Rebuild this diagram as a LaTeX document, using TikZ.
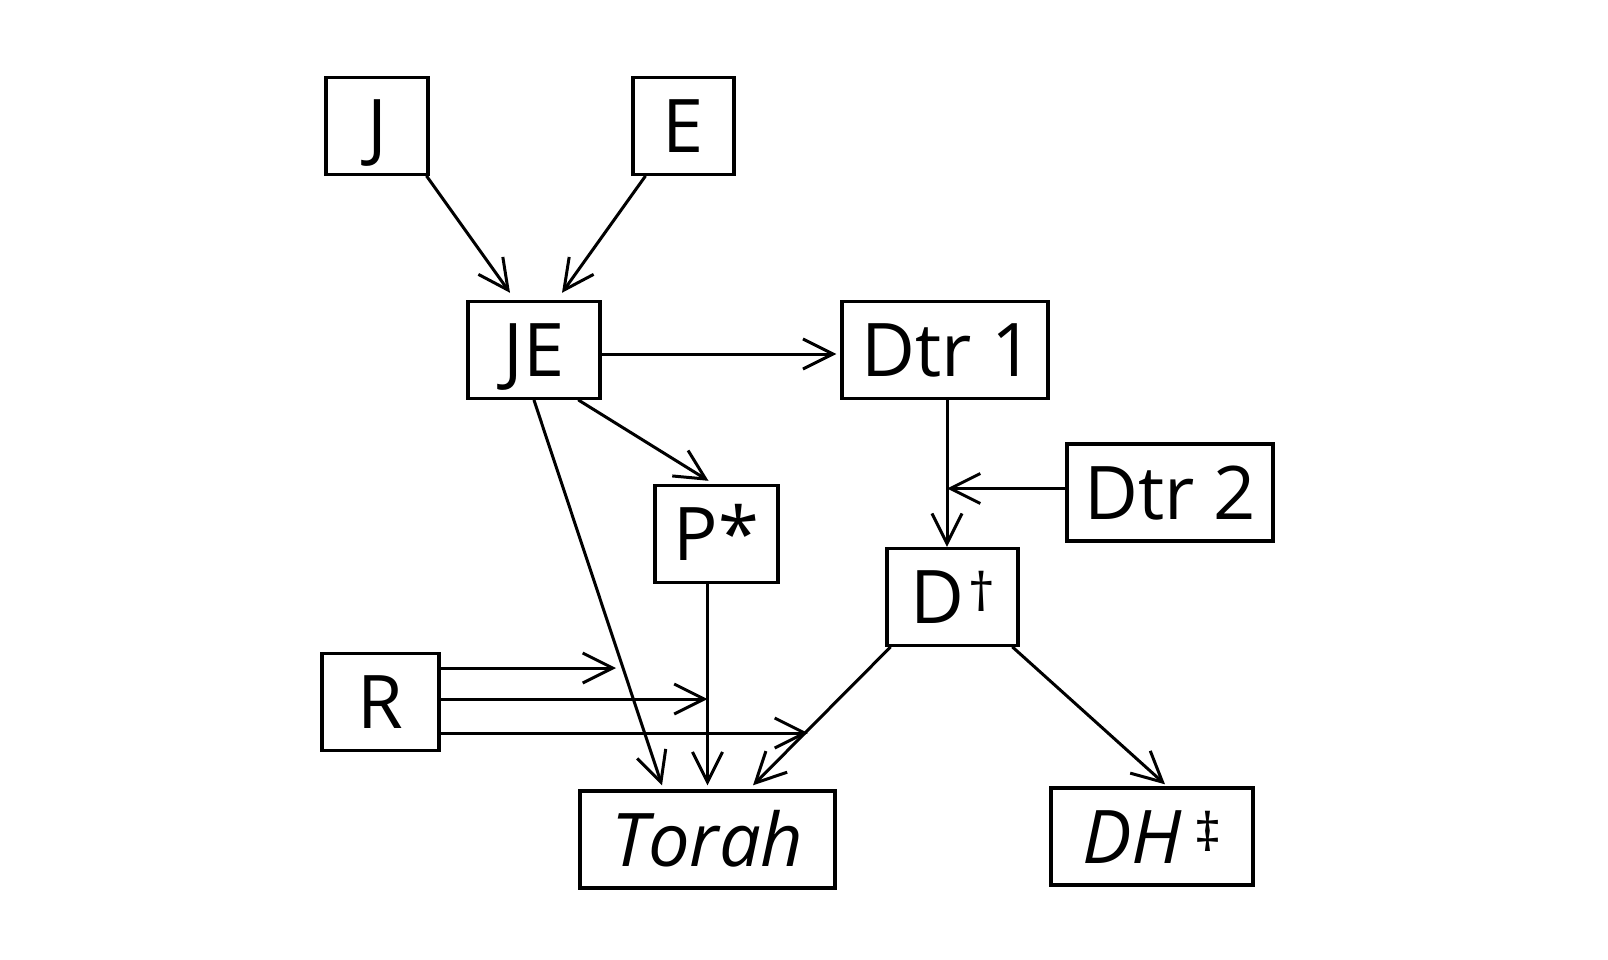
\documentclass[tikz,border=0pt]{standalone}
\usepackage{fontspec}
\setmainfont{Open Sans}
\usetikzlibrary{arrows.meta,calc}
\newcommand{\supmark}[1]{\raisebox{12pt}{\fontsize{53}{53}\selectfont #1}}
\begin{document}
\begin{tikzpicture}[x=1pt,y=-1pt,
  box/.style={draw,line width=3.4pt,inner sep=0pt,minimum height=97pt,
    text height=53pt,text depth=0pt,font=\fontsize{74}{80}\selectfont},
  conn/.style={line width=3pt,line cap=round,
    -{Straight Barb[length=30pt,width=30pt,line width=3pt]}},
]
\useasboundingbox (0,0) rectangle (1608,960);
% nodes
\node[box,minimum width=102pt] (J)    at (377,126)   {J};
\node[box,minimum width=101pt] (E)    at (683.5,126) {E};
\node[box,minimum width=132pt] (JE)   at (534,350)   {JE};
\node[box,minimum width=206pt] (Dtr1) at (945,350)   {\hspace{5pt}Dtr 1};
\node[box,minimum width=206pt] (Dtr2) at (1170,492.5){Dtr 2};
\node[box,minimum width=123pt] (P)    at (716.5,534) {P*};
\node[box,minimum width=131pt] (D)    at (952.5,597) {D\hspace{4pt}\supmark{†}};
\node[box,minimum width=117pt] (R)    at (380.5,702) {R};
\node[box,minimum width=255pt] (Torah) at (707.5,839.5) {\textit{Torah}};
\node[box,minimum width=202pt] (DH)   at (1152,836.5) {\textit{DH}\hspace{13pt}\supmark{‡}};
% free ends and start points
\coordinate (dtop) at ($(Dtr1.south)+(2,0)$);
\coordinate (dj) at ($(dtop |- Dtr2.west)+(0,-4)$);
\coordinate (ra) at ($(R.east)+(0,-34)$);
\coordinate (rb) at ($(R.east)+(0,-3)$);
\coordinate (rc) at ($(R.east)+(0,31)$);
\coordinate (r1) at (616,668);
\coordinate (r2) at (P.south -| Torah.north);
\coordinate (r3) at (808,733);
% connectors
\draw[conn] ([xshift=-3pt]J.south east) -- ($(JE.north)+(-24,-7)$);
\draw[conn] ([xshift=14pt]E.south west) -- ($(JE.north)+(28,-7)$);
\draw[conn] ($(JE.east)+(0,4)$) -- ($(Dtr1.west)+(-4,4)$);
\draw[conn] ([xshift=-23pt]JE.south east) -- ($(P.north)+(-8,-3)$);
\draw[conn] (JE.south) -- ($(Torah.north)+(-45.5,-4)$);
\draw[conn] (P.south -| Torah.north) -- ($(Torah.north)+(0,-4)$);
\draw[conn] (dtop) -- (dtop |- D.north);
\draw[conn] ($(Dtr2.west)+(0,-4)$) -- (dj);
\draw[conn] ([xshift=5pt]D.south west) -- ($(Torah.north)+(45.5,-4)$);
\draw[conn] ([xshift=-7pt]D.south east) -- ($(DH.north)+(13,-2)$);
\draw[conn] (ra) -- (r1 |- ra);
\draw[conn] (rb) -- (r2 |- rb);
\draw[conn] (rc) -- (r3 |- rc);
\end{tikzpicture}
\end{document}
